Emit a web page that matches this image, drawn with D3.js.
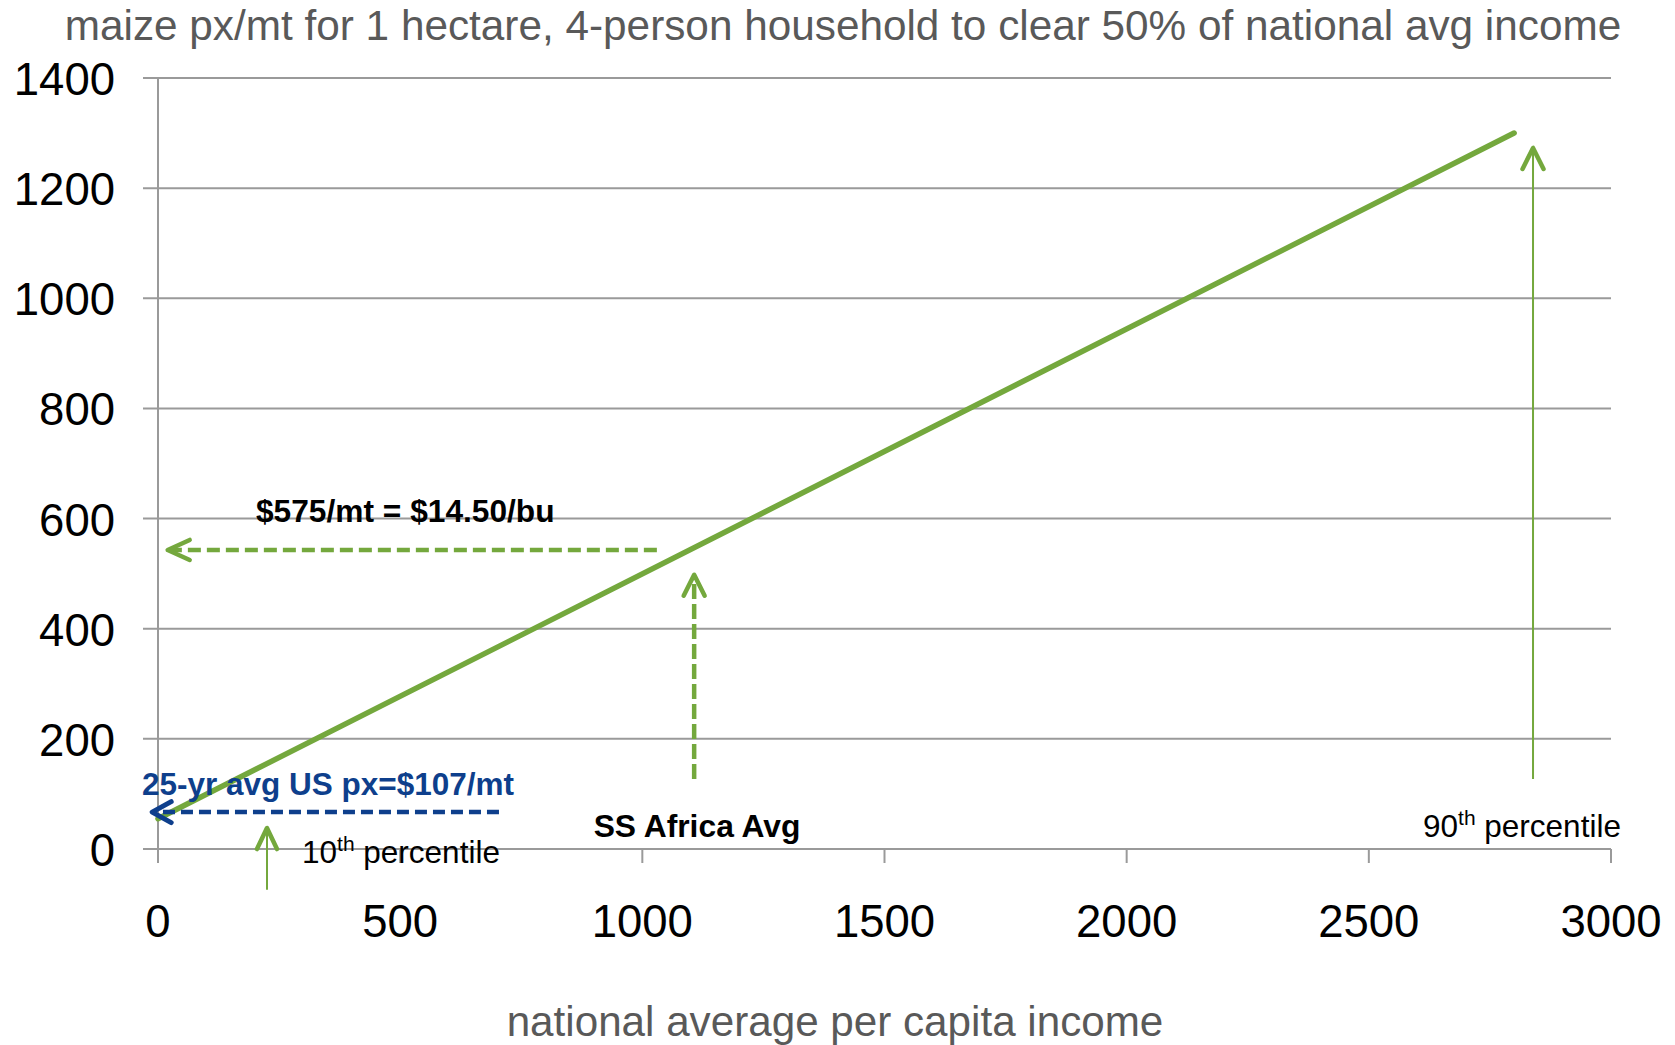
<!DOCTYPE html>
<html>
<head>
<meta charset="utf-8">
<script src="https://cdn.jsdelivr.net/npm/d3@7"></script>
<style>
  html, body { margin: 0; padding: 0; background: #fff; }
  svg { display: block; font-family: "Liberation Sans", Arial, sans-serif; }
</style>
</head>
<body>
<svg id="chart" width="1675" height="1045"></svg>
<script>
// ---- data ----
const xTicks = [0, 500, 1000, 1500, 2000, 2500, 3000];
const yTicks = [0, 200, 400, 600, 800, 1000, 1200, 1400];
const lineIncome = [0, 2800];
const linePrice = [55, 1300];

// annotation arrows (income, price) : tail -> tip
const arrowNames = ["575", "ssa", "us107", "p10", "p90"];
const arrowTailIncome = [1030, 1107, 704, 225, 2839];
const arrowTailPrice  = [543, 127, 67, -74, 127];
const arrowTipIncome  = [20, 1107, -12, 225, 2839];
const arrowTipPrice   = [543, 498, 67, 38, 1273];

const titleText = "maize px/mt for 1 hectare, 4-person household to clear 50% of national avg income";
const xTitleText = "national average per capita income";

// ---- layout ----
const svg = d3.select("#chart");
const GREEN = "#74a83d", BLUE = "#0e3f8c", GRID = "#9a9a9a", GREYTXT = "#595959";
const x = d3.scaleLinear().domain([0, 3000]).range([158, 1611]);
const y = d3.scaleLinear().domain([0, 1400]).range([849, 78]);

// title
svg.append("text").attr("x", 843).attr("y", 40).attr("text-anchor", "middle")
  .attr("font-size", 42.3).attr("fill", GREYTXT).text(titleText);

// gridlines
svg.append("g").selectAll("line").data(yTicks).join("line")
  .attr("x1", x(0) - 15).attr("x2", x(3000))
  .attr("y1", d => y(d)).attr("y2", d => y(d))
  .attr("stroke", GRID).attr("stroke-width", 2);

// y axis line
svg.append("line").attr("x1", x(0)).attr("x2", x(0)).attr("y1", y(1400)).attr("y2", y(0))
  .attr("stroke", GRID).attr("stroke-width", 2);

// x ticks
svg.append("g").selectAll("line").data(xTicks).join("line")
  .attr("x1", d => x(d)).attr("x2", d => x(d))
  .attr("y1", y(0)).attr("y2", y(0) + 14)
  .attr("stroke", GRID).attr("stroke-width", 2);

// y tick labels
svg.append("g").selectAll("text").data(yTicks).join("text")
  .attr("x", 115).attr("y", d => y(d) + 17).attr("text-anchor", "end")
  .attr("font-size", 45.5).attr("fill", "#000").text(d => d);

// x tick labels
svg.append("g").selectAll("text").data(xTicks).join("text")
  .attr("x", d => x(d)).attr("y", 937).attr("text-anchor", "middle")
  .attr("font-size", 45.5).attr("fill", "#000").text(d => d);

// x title
svg.append("text").attr("x", 835).attr("y", 1036).attr("text-anchor", "middle")
  .attr("font-size", 42.2).attr("fill", GREYTXT).text(xTitleText);

// main line
const lineData = lineIncome.map((v, i) => [v, linePrice[i]]);
svg.append("path").datum(lineData)
  .attr("d", d3.line().x(d => x(d[0])).y(d => y(d[1])))
  .attr("fill", "none").attr("stroke", GREEN).attr("stroke-width", 5.5)
  .attr("stroke-linecap", "round");

// arrows
const arrowStyle = {
  "575":   {color: GREEN, width: 4.5, dash: "13,6", head: [22, 10], hw: 4.5},
  "ssa":   {color: GREEN, width: 4.5, dash: "15,5", head: [21, 10.5], hw: 4.5},
  "us107": {color: BLUE, width: 4.5, dash: "12,6", head: [19, 10.5], hw: 5},
  "p10":   {color: GREEN, width: 2, dash: null, head: [21, 10], hw: 4.5},
  "p90":   {color: GREEN, width: 2, dash: null, head: [21, 10.5], hw: 4.5}
};
arrowNames.forEach((name, i) => {
  const st = arrowStyle[name];
  const x1 = x(arrowTailIncome[i]), y1 = y(arrowTailPrice[i]);
  const x2 = x(arrowTipIncome[i]), y2 = y(arrowTipPrice[i]);
  const dx = x2 - x1, dy = y2 - y1, L = Math.hypot(dx, dy);
  const ux = dx / L, uy = dy / L;
  svg.append("line")
    .attr("x1", x1).attr("y1", y1).attr("x2", x2 - ux * 3).attr("y2", y2 - uy * 3)
    .attr("stroke", st.color).attr("stroke-width", st.width)
    .attr("stroke-dasharray", st.dash);
  const [back, half] = st.head;
  const bx = x2 - ux * back, by = y2 - uy * back;
  const px = -uy, py = ux;
  svg.append("path")
    .attr("d", `M${bx + px * half},${by + py * half}L${x2},${y2}L${bx - px * half},${by - py * half}`)
    .attr("fill", "none").attr("stroke", st.color).attr("stroke-width", st.hw)
    .attr("stroke-linecap", "round").attr("stroke-linejoin", "round");
});

// labels
svg.append("text").attr("x", 256).attr("y", 522)
  .attr("font-size", 31.7).attr("font-weight", "bold").attr("fill", "#000")
  .text("$575/mt = $14.50/bu");

svg.append("text").attr("x", 142).attr("y", 795)
  .attr("font-size", 31.5).attr("font-weight", "bold").attr("fill", BLUE)
  .text("25-yr avg US px=$107/mt");

svg.append("text").attr("x", 697).attr("y", 837).attr("text-anchor", "middle")
  .attr("font-size", 31.8).attr("font-weight", "bold").attr("fill", "#000")
  .text("SS Africa Avg");

function percentileLabel(xp, yp, num) {
  const t = svg.append("text").attr("x", xp).attr("y", yp)
    .attr("font-size", 31.5).attr("fill", "#000");
  t.append("tspan").text(num);
  t.append("tspan").attr("font-size", 21).attr("dy", -12).text("th");
  t.append("tspan").attr("dy", 12).text(" percentile");
}
percentileLabel(302, 863, "10");
percentileLabel(1423, 837, "90");
</script>
</body>
</html>
